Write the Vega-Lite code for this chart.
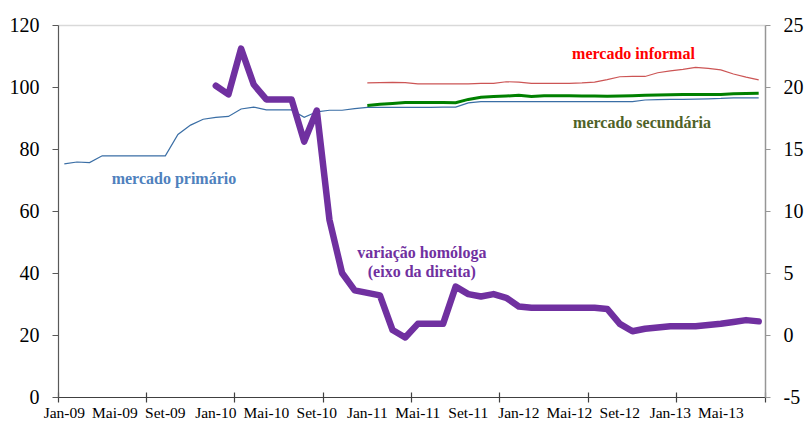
{
  "$schema": "https://vega.github.io/schema/vega-lite/v6.json",
  "width": 707,
  "height": 372,
  "autosize": "none",
  "padding": {"left": 58, "top": 25, "right": 41, "bottom": 24},
  "background": "white",
  "config": {
    "view": {"stroke": null},
    "font": "Liberation Serif",
    "axis": {"labelFont": "Liberation Serif", "labelColor": "black", "grid": false, "title": null}
  },
  "data": {"values": [
    {"m":"Jan-09","p":75.2,"inf":null,"sec":null,"v":null},
    {"m":"Fev-09","p":75.8,"inf":null,"sec":null,"v":null},
    {"m":"Mar-09","p":75.6,"inf":null,"sec":null,"v":null},
    {"m":"Abr-09","p":77.8,"inf":null,"sec":null,"v":null},
    {"m":"Mai-09","p":77.8,"inf":null,"sec":null,"v":null},
    {"m":"Jun-09","p":77.8,"inf":null,"sec":null,"v":null},
    {"m":"Jul-09","p":77.8,"inf":null,"sec":null,"v":null},
    {"m":"Ago-09","p":77.8,"inf":null,"sec":null,"v":null},
    {"m":"Set-09","p":77.8,"inf":null,"sec":null,"v":null},
    {"m":"Out-09","p":84.7,"inf":null,"sec":null,"v":null},
    {"m":"Nov-09","p":87.7,"inf":null,"sec":null,"v":null},
    {"m":"Dez-09","p":89.6,"inf":null,"sec":null,"v":null},
    {"m":"Jan-10","p":90.2,"inf":null,"sec":null,"v":20.1},
    {"m":"Fev-10","p":90.5,"inf":null,"sec":null,"v":19.4},
    {"m":"Mar-10","p":92.9,"inf":null,"sec":null,"v":23.1},
    {"m":"Abr-10","p":93.5,"inf":null,"sec":null,"v":20.2},
    {"m":"Mai-10","p":92.6,"inf":null,"sec":null,"v":19.0},
    {"m":"Jun-10","p":92.6,"inf":null,"sec":null,"v":19.0},
    {"m":"Jul-10","p":92.6,"inf":null,"sec":null,"v":19.0},
    {"m":"Ago-10","p":90.2,"inf":null,"sec":null,"v":15.6},
    {"m":"Set-10","p":92.0,"inf":null,"sec":null,"v":18.1},
    {"m":"Out-10","p":92.5,"inf":null,"sec":null,"v":9.3},
    {"m":"Nov-10","p":92.5,"inf":null,"sec":null,"v":5.0},
    {"m":"Dez-10","p":93.0,"inf":null,"sec":null,"v":3.6},
    {"m":"Jan-11","p":93.4,"inf":101.3,"sec":94.0,"v":3.4},
    {"m":"Fev-11","p":93.4,"inf":101.4,"sec":94.4,"v":3.2},
    {"m":"Mar-11","p":93.4,"inf":101.5,"sec":94.7,"v":0.4},
    {"m":"Abr-11","p":93.4,"inf":101.4,"sec":95.0,"v":-0.2},
    {"m":"Mai-11","p":93.4,"inf":101.0,"sec":95.0,"v":0.9},
    {"m":"Jun-11","p":93.4,"inf":101.0,"sec":95.0,"v":0.9},
    {"m":"Jul-11","p":93.5,"inf":101.0,"sec":95.0,"v":0.9},
    {"m":"Ago-11","p":93.5,"inf":101.0,"sec":94.9,"v":3.9},
    {"m":"Set-11","p":94.9,"inf":101.0,"sec":96.0,"v":3.3},
    {"m":"Out-11","p":95.3,"inf":101.2,"sec":96.7,"v":3.1},
    {"m":"Nov-11","p":95.3,"inf":101.2,"sec":96.9,"v":3.3},
    {"m":"Dez-11","p":95.3,"inf":101.7,"sec":97.1,"v":3.0},
    {"m":"Jan-12","p":95.3,"inf":101.6,"sec":97.3,"v":2.3},
    {"m":"Fev-12","p":95.3,"inf":101.2,"sec":96.9,"v":2.2},
    {"m":"Mar-12","p":95.3,"inf":101.2,"sec":97.2,"v":2.2},
    {"m":"Abr-12","p":95.3,"inf":101.2,"sec":97.2,"v":2.2},
    {"m":"Mai-12","p":95.3,"inf":101.2,"sec":97.2,"v":2.2},
    {"m":"Jun-12","p":95.3,"inf":101.3,"sec":97.1,"v":2.2},
    {"m":"Jul-12","p":95.3,"inf":101.6,"sec":97.1,"v":2.2},
    {"m":"Ago-12","p":95.3,"inf":102.4,"sec":97.0,"v":2.1},
    {"m":"Set-12","p":95.3,"inf":103.3,"sec":97.1,"v":0.9},
    {"m":"Out-12","p":95.3,"inf":103.4,"sec":97.2,"v":0.3},
    {"m":"Nov-12","p":95.8,"inf":103.4,"sec":97.3,"v":0.5},
    {"m":"Dez-12","p":95.9,"inf":104.6,"sec":97.4,"v":0.6},
    {"m":"Jan-13","p":96.0,"inf":105.2,"sec":97.5,"v":0.7},
    {"m":"Fev-13","p":96.0,"inf":105.7,"sec":97.6,"v":0.7},
    {"m":"Mar-13","p":96.1,"inf":106.3,"sec":97.6,"v":0.7},
    {"m":"Abr-13","p":96.2,"inf":106.0,"sec":97.6,"v":0.8},
    {"m":"Mai-13","p":96.3,"inf":105.5,"sec":97.6,"v":0.9},
    {"m":"Jun-13","p":96.5,"inf":104.2,"sec":97.8,"v":1.05},
    {"m":"Jul-13","p":96.5,"inf":103.2,"sec":97.9,"v":1.2},
    {"m":"Ago-13","p":96.5,"inf":102.3,"sec":98.0,"v":1.1}
  ]},
  "layer": [
    {
      "mark": {"type": "line", "color": "#3a6ea5", "strokeWidth": 1.2},
      "encoding": {
        "x": {"field": "m", "type": "ordinal", "sort": null, "bandPosition": 0.5,
          "scale": {"type": "band", "paddingInner": 0, "paddingOuter": 0,
            "domain": ["Jan-09","Fev-09","Mar-09","Abr-09","Mai-09","Jun-09","Jul-09","Ago-09","Set-09","Out-09","Nov-09","Dez-09","Jan-10","Fev-10","Mar-10","Abr-10","Mai-10","Jun-10","Jul-10","Ago-10","Set-10","Out-10","Nov-10","Dez-10","Jan-11","Fev-11","Mar-11","Abr-11","Mai-11","Jun-11","Jul-11","Ago-11","Set-11","Out-11","Nov-11","Dez-11","Jan-12","Fev-12","Mar-12","Abr-12","Mai-12","Jun-12","Jul-12","Ago-12","Set-12","Out-12","Nov-12","Dez-12","Jan-13","Fev-13","Mar-13","Abr-13","Mai-13","Jun-13","Jul-13","Ago-13"]},
          "axis": {"orient": "bottom", "bandPosition": 0.5, "ticks": false, "labelPadding": 8, "labelAngle": 0, "labelFontSize": 15.5,
            "domainColor": "#404040", "domainWidth": 1.2,
            "values": ["Jan-09","Mai-09","Set-09","Jan-10","Mai-10","Set-10","Jan-11","Mai-11","Set-11","Jan-12","Mai-12","Set-12","Jan-13","Mai-13"]}},
        "y": {"field": "p", "type": "quantitative", "scale": {"domain": [0, 120]},
          "axis": {"orient": "left", "values": [0,20,40,60,80,100,120], "tickSize": 6, "labelPadding": 13, "labelFontSize": 20,
            "domainColor": "#595959", "tickColor": "#595959", "domainWidth": 1.2}}
      }
    },
    {
      "mark": {"type": "line", "color": "#cc5555", "strokeWidth": 1.2},
      "encoding": {
        "x": {"field": "m", "type": "ordinal", "sort": null, "bandPosition": 0.5,
          "axis": {"orient": "bottom", "bandPosition": 0, "labels": false, "domain": false, "tickSize": 10, "offset": -5, "tickColor": "#404040", "tickWidth": 1.2,
            "values": ["Jan-09","Ago-09","Mar-10","Out-10","Mai-11","Dez-11","Jul-12","Fev-13"]}},
        "y": {"field": "inf", "type": "quantitative", "scale": {"domain": [0, 120]}, "axis": null}
      }
    },
    {
      "mark": {"type": "line", "color": "#008000", "strokeWidth": 3},
      "encoding": {
        "x": {"field": "m", "type": "ordinal", "sort": null, "bandPosition": 0.5,
          "axis": {"orient": "bottom", "bandPosition": 1, "labels": false, "domain": false, "tickSize": 10, "offset": -5, "tickColor": "#404040", "tickWidth": 1.2,
            "values": ["Ago-13"]}},
        "y": {"field": "sec", "type": "quantitative", "scale": {"domain": [0, 120]}, "axis": null}
      }
    },
    {
      "mark": {"type": "line", "color": "#7030A0", "strokeWidth": 6.5, "strokeJoin": "round", "strokeCap": "round"},
      "encoding": {
        "x": {"field": "m", "type": "ordinal", "sort": null, "bandPosition": 0.5,
          "axis": {"orient": "top", "domain": true, "domainColor": "#d9d9d9", "domainWidth": 1.5, "ticks": false, "labels": false}},
        "y": {"field": "v", "type": "quantitative", "scale": {"domain": [-5, 25]},
          "axis": {"orient": "right", "values": [-5,0,5,10,15,20,25], "tickSize": 5, "labelPadding": 13, "labelFontSize": 20,
            "labelExpr": "datum.value < 0 ? '-' + abs(datum.value) : '' + datum.value",
            "domainColor": "#969696", "tickColor": "#969696", "domainWidth": 1.5}}
      }
    },
    {
      "data": {"values": [{"m": "Out-09", "y": 68.6, "t": "mercado primário"}]},
      "mark": {"type": "text", "font": "Liberation Serif", "fontWeight": "bold", "fontSize": 16, "color": "#4F81BD", "align": "center", "baseline": "alphabetic", "dx": -4},
      "encoding": {
        "x": {"field": "m", "type": "ordinal", "sort": null, "bandPosition": 0.5, "axis": null},
        "y": {"field": "y", "type": "quantitative", "scale": {"domain": [0, 120]}, "axis": null},
        "text": {"field": "t"}
      }
    },
    {
      "data": {"values": [{"m": "Out-12", "y": 108.9, "t": "mercado informal"}]},
      "mark": {"type": "text", "font": "Liberation Serif", "fontWeight": "bold", "fontSize": 16, "color": "#FF0000", "align": "center", "baseline": "alphabetic", "dx": 1},
      "encoding": {
        "x": {"field": "m", "type": "ordinal", "sort": null, "bandPosition": 0.5, "axis": null},
        "y": {"field": "y", "type": "quantitative", "scale": {"domain": [0, 120]}, "axis": null},
        "text": {"field": "t"}
      }
    },
    {
      "data": {"values": [{"m": "Nov-12", "y": 86.7, "t": "mercado secundária"}]},
      "mark": {"type": "text", "font": "Liberation Serif", "fontWeight": "bold", "fontSize": 16, "color": "#4F6228", "align": "center", "baseline": "alphabetic", "dx": -3},
      "encoding": {
        "x": {"field": "m", "type": "ordinal", "sort": null, "bandPosition": 0.5, "axis": null},
        "y": {"field": "y", "type": "quantitative", "scale": {"domain": [0, 120]}, "axis": null},
        "text": {"field": "t"}
      }
    },
    {
      "data": {"values": [{"m": "Mai-11", "y": 44.7, "t": "variação homóloga"}, {"m": "Mai-11", "y": 38.8, "t": "(eixo da direita)"}]},
      "mark": {"type": "text", "font": "Liberation Serif", "fontWeight": "bold", "fontSize": 16, "color": "#7030A0", "align": "center", "baseline": "alphabetic", "dx": 4},
      "encoding": {
        "x": {"field": "m", "type": "ordinal", "sort": null, "bandPosition": 0.5, "axis": null},
        "y": {"field": "y", "type": "quantitative", "scale": {"domain": [0, 120]}, "axis": null},
        "text": {"field": "t"}
      }
    }
  ],
  "resolve": {"scale": {"y": "independent"}, "axis": {"x": "independent"}}
}
